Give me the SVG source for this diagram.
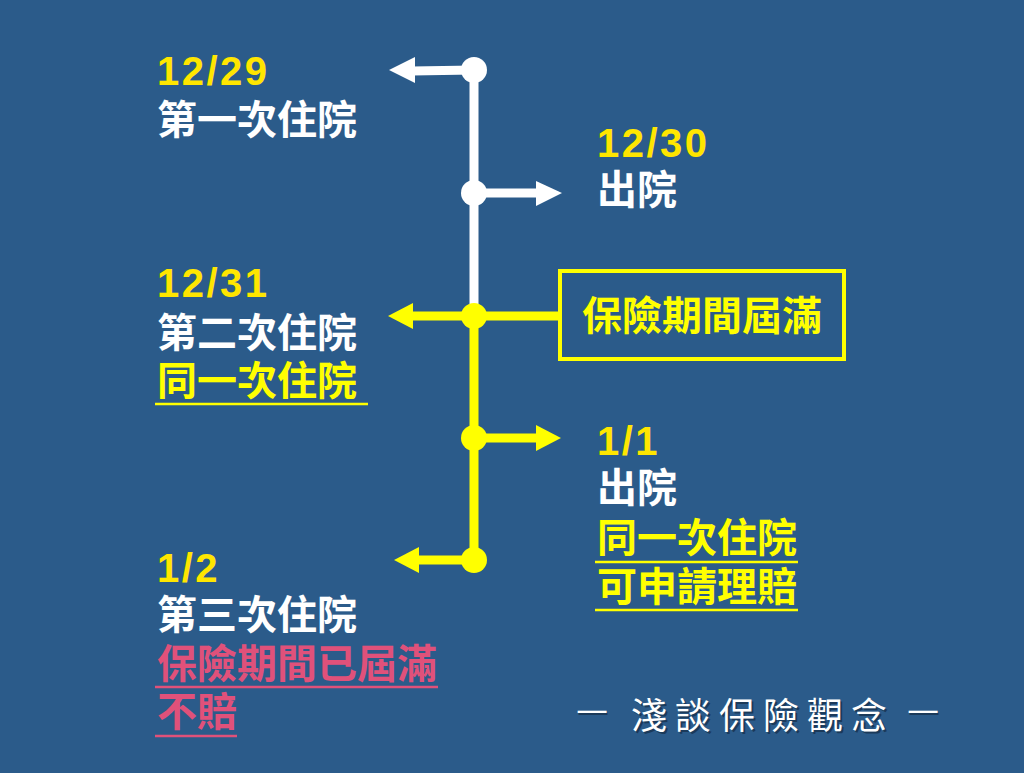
<svg xmlns="http://www.w3.org/2000/svg" width="1024" height="773" viewBox="0 0 1024 773">
  <style>
    .cjk { font-family: "Noto Sans CJK TC", "Noto Sans CJK SC", sans-serif; font-weight: 700; font-size: 40px; }
    .num { font-family: "Liberation Sans", Arial, sans-serif; font-weight: 700; font-size: 40px; letter-spacing: 2.5px; fill: #FFE600; }
    .white { fill: #FFFFFF; }
    .yel { fill: #FFFF00; }
    .pink { fill: #E0517A; }
    .ulY { stroke: #FFFF00; stroke-width: 2.5; }
    .ulP { stroke: #E0517A; stroke-width: 2.5; }
    .wl { stroke: #FFFFFF; stroke-width: 9; fill: none; }
    .yl { stroke: #FFFF00; stroke-width: 9; fill: none; }
    .sig { font-family: "Noto Sans CJK TC", sans-serif; font-weight: 400; font-size: 36px; letter-spacing: 8px; }
  </style>
  <rect width="1024" height="773" fill="#2B5B8A"/>

  <g id="connectors">
    <line class="wl" x1="474" y1="70" x2="474" y2="316"/>
    <line class="yl" x1="474" y1="316" x2="474" y2="560"/>
    <line class="wl" x1="474" y1="70" x2="412" y2="71"/>
    <polygon points="389,70 415,57 415,83" fill="#FFFFFF"/>
    <line class="wl" x1="474" y1="193" x2="540" y2="193"/>
    <polygon points="562,193 536,181 536,206" fill="#FFFFFF"/>
    <line class="yl" x1="474" y1="316" x2="410" y2="316"/>
    <polygon points="388,316 413,303 413,329" fill="#FFFF00"/>
    <line class="yl" x1="474" y1="316" x2="560" y2="316"/>
    <line class="yl" x1="474" y1="438" x2="540" y2="438"/>
    <polygon points="561,438 536,425 536,451" fill="#FFFF00"/>
    <line class="yl" x1="474" y1="560" x2="416" y2="560"/>
    <polygon points="394,560 419,547 419,573" fill="#FFFF00"/>
    <circle cx="474" cy="70" r="13" fill="#FFFFFF"/>
    <circle cx="474" cy="193" r="13" fill="#FFFFFF"/>
    <circle cx="474" cy="316" r="13" fill="#FFFF00"/>
    <circle cx="474" cy="438" r="13" fill="#FFFF00"/>
    <circle cx="474" cy="560" r="13" fill="#FFFF00"/>
  </g>

  <g id="node-1229">
    <text class="num" x="157" y="85">12/29</text>
    <text class="cjk white" x="157" y="134">第一次住院</text>
  </g>

  <g id="node-1230">
    <text class="num" x="597" y="157">12/30</text>
    <text class="cjk white" x="597" y="204">出院</text>
  </g>

  <g id="node-1231">
    <text class="num" x="157" y="297">12/31</text>
    <text class="cjk white" x="157" y="347">第二次住院</text>
    <text class="cjk yel" x="157" y="395">同一次住院</text>
    <line class="ulY" x1="155" y1="404" x2="368" y2="404"/>
  </g>

  <g id="node-expire">
    <rect x="560" y="271" width="284" height="88" fill="none" stroke="#FFFF00" stroke-width="4"/>
    <text class="cjk yel" x="702" y="330" text-anchor="middle">保險期間屆滿</text>
  </g>

  <g id="node-0101">
    <text class="num" x="597" y="455">1/1</text>
    <text class="cjk white" x="597" y="502">出院</text>
    <text class="cjk yel" x="597" y="552">同一次住院</text>
    <line class="ulY" x1="595" y1="562" x2="798" y2="562"/>
    <text class="cjk yel" x="597" y="601">可申請理賠</text>
    <line class="ulY" x1="595" y1="610" x2="798" y2="610"/>
  </g>

  <g id="node-0102">
    <text class="num" x="157" y="582">1/2</text>
    <text class="cjk white" x="157" y="629">第三次住院</text>
    <text class="cjk pink" x="157" y="678">保險期間已屆滿</text>
    <line class="ulP" x1="155" y1="687" x2="438" y2="687"/>
    <text class="cjk pink" x="157" y="726">不賠</text>
    <line class="ulP" x1="155" y1="736" x2="237" y2="736"/>
  </g>

  <g id="signature">
    <text class="sig" x="597" y="724" fill="#1B3A5A" text-anchor="middle" letter-spacing="0">—</text>
    <text class="sig" x="596" y="722" fill="#FFFFFF" text-anchor="middle" letter-spacing="0">—</text>
    <text class="sig" x="633" y="731" fill="#1B3A5A">淺談保險觀念</text>
    <text class="sig" x="631" y="729" fill="#FFFFFF">淺談保險觀念</text>
    <text class="sig" x="928" y="724" fill="#1B3A5A" text-anchor="middle" letter-spacing="0">—</text>
    <text class="sig" x="927" y="722" fill="#FFFFFF" text-anchor="middle" letter-spacing="0">—</text>
  </g>
</svg>
